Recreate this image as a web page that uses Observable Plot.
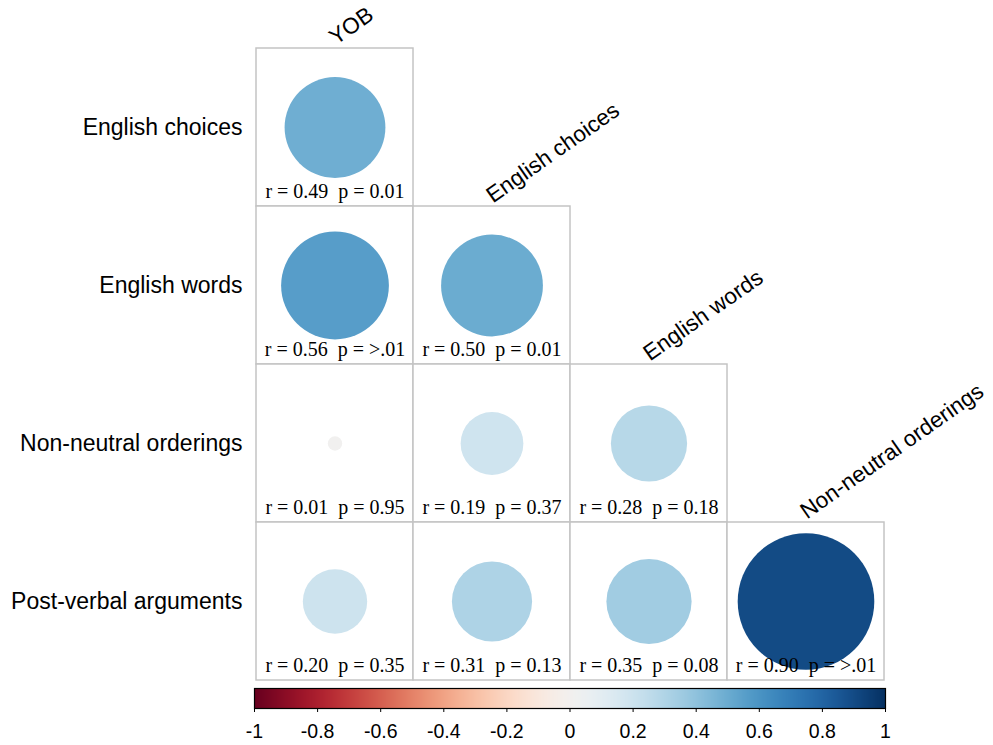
<!DOCTYPE html>
<html>
<head>
<meta charset="utf-8">
<script src="https://cdn.jsdelivr.net/npm/d3@7"></script>
<script src="https://cdn.jsdelivr.net/npm/@observablehq/plot@0.6"></script>
<style>
  html, body { margin: 0; padding: 0; background: #fff; }
  #chart svg { display: block; }
</style>
</head>
<body>
<div id="chart"></div>
<script>
// ---- data ----
const columns = ["YOB", "English choices", "English words", "Non-neutral orderings"];
const rowsVars = ["English choices", "English words", "Non-neutral orderings", "Post-verbal arguments"];
const cellRow = ["English choices", "English words", "English words", "Non-neutral orderings", "Non-neutral orderings", "Non-neutral orderings", "Post-verbal arguments", "Post-verbal arguments", "Post-verbal arguments", "Post-verbal arguments"];
const cellCol = ["YOB", "YOB", "English choices", "YOB", "English choices", "English words", "YOB", "English choices", "English words", "Non-neutral orderings"];
const rValues = [0.49, 0.56, 0.50, 0.01, 0.19, 0.28, 0.20, 0.31, 0.35, 0.90];
const pLabels = ["0.01", ">.01", "0.01", "0.95", "0.37", "0.18", "0.35", "0.13", "0.08", ">.01"];
const colorTicks = [-1, -0.8, -0.6, -0.4, -0.2, 0, 0.2, 0.4, 0.6, 0.8, 1];

const cells = rValues.map((r, i) => ({
  row: cellRow[i], col: cellCol[i], r,
  label: "r = " + r.toFixed(2) + "\u00a0\u00a0p = " + pLabels[i]
}));
const colLabels = columns.map((c, i) => ({col: c, row: rowsVars[i]}));

const sans = "'Liberation Sans', Arial, Helvetica, sans-serif";
const serif = "'Liberation Serif', 'Times New Roman', serif";

const main = Plot.plot({
  width: 993,
  height: 682,
  marginLeft: 254,
  marginRight: 108,
  marginTop: 48,
  marginBottom: 2,
  style: {fontFamily: sans, color: "black", background: "white", overflow: "visible"},
  x: {domain: columns, padding: 0, axis: null},
  y: {domain: rowsVars, padding: 0, axis: null},
  r: {type: "sqrt", domain: [0, 1], range: [0, 72]},
  color: {type: "linear", domain: [-1, 1], scheme: "rdbu"},
  marks: [
    Plot.cell(cells, {x: "col", y: "row", fill: "white", stroke: "#c4c4c4", strokeWidth: 1.5, inset: 0}),
    Plot.dot(cells, {x: "col", y: "row", r: d => Math.abs(d.r), fill: "r"}),
    Plot.text(cells, {x: "col", y: "row", text: "label", dy: 70, lineAnchor: "bottom",
      fontFamily: serif, fontSize: 20, fill: "black"}),
    Plot.axisY({tickSize: 0, tickPadding: 12, fontSize: 23, label: null}),
    Plot.text(colLabels, {x: "col", y: "row", text: "col", dy: -82, dx: 1, rotate: -35,
      textAnchor: "start", lineAnchor: "bottom", fontSize: 22.5, fill: "black"})
  ]
});

const bar = Plot.plot({
  width: 993,
  height: 63,
  marginLeft: 254,
  marginRight: 108,
  marginTop: 6,
  marginBottom: 37,
  style: {fontFamily: sans, color: "black", background: "white", overflow: "visible"},
  x: {domain: [-1, 1]},
  y: {domain: [0, 1], axis: null},
  color: {type: "linear", domain: [-1, 1], scheme: "rdbu"},
  marks: [
    Plot.raster({x1: -1, x2: 1, y1: 0, y2: 1, width: 631, height: 1, fill: (x, y) => x}),
    Plot.frame({stroke: "black", strokeWidth: 1.2}),
    Plot.axisX({ticks: colorTicks, tickFormat: d => String(d), tickSize: 4, tickPadding: 12,
      fontSize: 19.5, label: null, stroke: "black"})
  ]
});

const root = document.getElementById("chart");
root.appendChild(main);
root.appendChild(bar);
</script>
</body>
</html>
